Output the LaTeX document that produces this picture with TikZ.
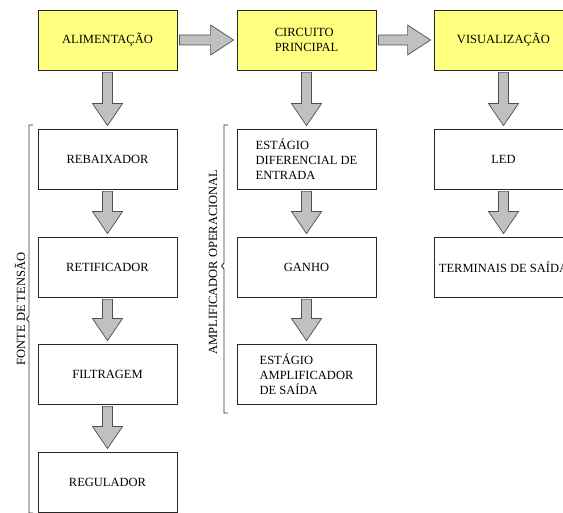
\documentclass[tikz,border=0pt]{standalone}
\usepackage{fontspec}
\setmainfont{Liberation Serif}
\usepackage{tikz}
\usetikzlibrary{calc}

\definecolor{boxyellow}{RGB}{255,255,128}
\definecolor{arrowgray}{RGB}{192,192,192}
\definecolor{edgegray}{RGB}{80,80,80}

\tikzset{
  blkbox/.style={draw=black!85, line width=0.8pt, minimum width=139pt, minimum height=60pt,
    inner sep=2pt, align=left, font=\fontsize{12.5}{14.8}\selectfont},
  topbox/.style={blkbox, fill=boxyellow},
  lowbox/.style={blkbox, fill=white},
  blockarr/.style={draw=edgegray, fill=arrowgray, line width=0.7pt, line join=miter},
  grouplabel/.style={rotate=90, font=\fontsize{12.5}{14.8}\selectfont},
  bracketline/.style={draw=black!80, line width=0.9pt}
}

% horizontal block arrow between two boxes
\newcommand{\harrow}[2]{%
  \draw[blockarr] let \p1=(#1.east), \p2=(#2.west) in
    (\x1+2pt,\y1-5pt) -- (\x2-26pt,\y1-5pt) -- (\x2-26pt,\y1-15pt) -- (\x2-3pt,\y1)
    -- (\x2-26pt,\y1+15pt) -- (\x2-26pt,\y1+5pt) -- (\x1+2pt,\y1+5pt) -- cycle;}
% vertical block arrow between two boxes
\newcommand{\varrow}[2]{%
  \draw[blockarr] let \p1=(#1.south), \p2=(#2.north) in
    (\x1-5pt,\y1-2pt) -- (\x1-5pt,\y2+25pt) -- (\x1-15pt,\y2+25pt) -- (\x1,\y2+3pt)
    -- (\x1+15pt,\y2+25pt) -- (\x1+5pt,\y2+25pt) -- (\x1+5pt,\y1-2pt) -- cycle;}

\begin{document}
\begin{tikzpicture}[x=1pt,y=-1pt]
\useasboundingbox (0,0) rectangle (563,513);
\clip (0,0) rectangle (563,513);

% top row
\node[topbox] (alim) at (107.5,40) {ALIMENTAÇÃO};
\node[topbox] (circ) at (306.5,40) {CIRCUITO\\PRINCIPAL};
\node[topbox] (visu) at (503.5,40) {VISUALIZAÇÃO};

% fonte de tensao
\node[lowbox] (rebx) at (107.5,159) {REBAIXADOR};
\node[lowbox] (retf) at (107.5,267) {RETIFICADOR};
\node[lowbox] (filt) at (107.5,374) {FILTRAGEM};
\node[lowbox] (regl) at (107.5,482) {REGULADOR};

% amplificador operacional
\node[lowbox] (edif) at (306.5,159) {ESTÁGIO\\DIFERENCIAL DE\\ENTRADA};
\node[lowbox] (ganh) at (306.5,267) {GANHO};
\node[lowbox] (eamp) at (306.5,374) {ESTÁGIO\\AMPLIFICADOR\\DE SAÍDA};

% visualizacao
\node[lowbox] (led) at (503.5,159) {LED};
\node[lowbox] (term) at (503.5,267) {TERMINAIS DE SAÍDA};

% arrows
\harrow{alim}{circ}
\harrow{circ}{visu}
\varrow{alim}{rebx}
\varrow{rebx}{retf}
\varrow{retf}{filt}
\varrow{filt}{regl}
\varrow{circ}{edif}
\varrow{edif}{ganh}
\varrow{ganh}{eamp}
\varrow{visu}{led}
\varrow{led}{term}

% brackets
\draw[bracketline] (33,125) -- (29,125) -- (29,316) -- (26.5,319) -- (29,322) -- (29,513) -- (33,513);
\draw[bracketline] (228,125) -- (224,125) -- (224,263) -- (221.5,266) -- (224,269) -- (224,413) -- (228,413);
\node[grouplabel] (fonte) at (20,309) {FONTE DE TENSÃO};
\node[grouplabel] (ampop) at (213,262) {AMPLIFICADOR OPERACIONAL};
\end{tikzpicture}
\end{document}
